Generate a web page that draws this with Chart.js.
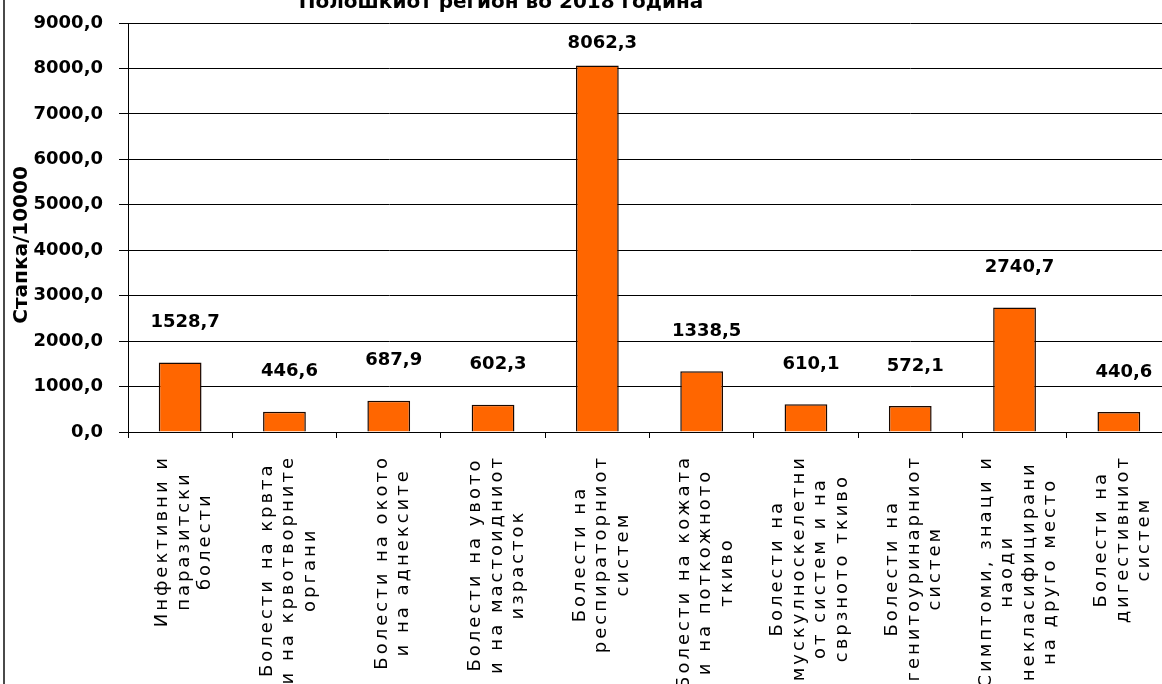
<!DOCTYPE html>
<html><head><meta charset="utf-8">
<script src="https://cdn.jsdelivr.net/npm/chart.js@4/dist/chart.umd.min.js"></script>
<style>
html,body{margin:0;padding:0;background:#fff;overflow:hidden;}
#wrap{position:relative;width:1162px;height:684px;overflow:hidden;background:#fff;}
#box{position:absolute;left:-170px;top:-30px;width:1342px;height:742px;}
#frame{position:absolute;left:3px;top:0;width:0;height:684px;border-left:2px solid #4a4a4a;}
</style></head><body>
<div id="wrap"><div id="box"><canvas id="c" width="1342" height="742"></canvas></div><div id="frame"></div></div>
<script>
const titleText = 'Полошкиот регион во 2018 година';
const yAxisTitle = 'Стапка/10000';
const categories = [
  ['Инфективни и', 'паразитски', 'болести'],
  ['Болести на крвта', 'и на крвотворните', 'органи'],
  ['Болести на окото', 'и на аднексите'],
  ['Болести на увото', 'и на мастоидниот', 'израсток'],
  ['Болести на', 'респираторниот', 'систем'],
  ['Болести на кожата', 'и на поткожното', 'ткиво'],
  ['Болести на', 'мускулноскелетни', 'от систем и на', 'сврзното ткиво'],
  ['Болести на', 'генитоуринарниот', 'систем'],
  ['Симптоми, знаци и', 'наоди', 'некласифицирани', 'на друго место'],
  ['Болести на', 'дигестивниот', 'систем']
];
const rates = [1528.7, 446.6, 687.9, 602.3, 8062.3, 1338.5, 610.1, 572.1, 2740.7, 440.6];
const yMin = 0, yMax = 9000, yStep = 1000;

const fmt = v => v.toFixed(1).replace('.', ',');

const catLabelPlugin = {
  id: 'catLabels',
  afterDraw(chart) {
    const xs = chart.scales.x, ctx = chart.ctx;
    ctx.save();
    ctx.font = '18px "DejaVu Sans"';
    ctx.letterSpacing = '3px';
    ctx.fillStyle = '#000';
    ctx.textAlign = 'center';
    ctx.textBaseline = 'middle';
    const lineH = 21.5;
    categories.forEach((lines, i) => {
      const cx = xs.getPixelForTick(i) + 4;
      const maxW = Math.max(...lines.map(l => ctx.measureText(l).width));
      const cy = xs.top + 23 + maxW / 2;
      ctx.save();
      ctx.translate(cx, cy);
      ctx.rotate(-Math.PI / 2);
      const n = lines.length;
      lines.forEach((l, j) => ctx.fillText(l, 0, (j - (n - 1) / 2) * lineH));
      ctx.restore();
    });
    ctx.restore();
  }
};

const valueLabelPlugin = {
  id: 'valueLabels',
  afterDatasetsDraw(chart) {
    const ctx = chart.ctx, meta = chart.getDatasetMeta(0);
    ctx.save();
    ctx.font = 'bold 18px "DejaVu Sans"';
    ctx.fillStyle = '#000';
    ctx.textAlign = 'center';
    ctx.textBaseline = 'middle';
    meta.data.forEach((bar, i) => {
      const y = Math.max(bar.y - 40, chart.chartArea.top + 20);
      ctx.fillText(fmt(rates[i]), bar.x + 5, y);
    });
    ctx.restore();
  }
};

new Chart(document.getElementById('c'), {
  type: 'bar',
  data: {
    labels: categories,
    datasets: [{
      data: rates,
      backgroundColor: '#FF6600',
      borderColor: '#1a0800',
      borderWidth: 1.5,
      barPercentage: 0.41,
      categoryPercentage: 1.0
    }]
  },
  options: {
    responsive: false,
    animation: false,
    layout: { padding: { left: 1, right: 1, top: 0, bottom: 0 } },
    plugins: {
      legend: { display: false },
      tooltip: { enabled: false },
      title: {
        display: true,
        text: titleText,
        color: '#000',
        font: { family: 'DejaVu Sans', size: 20, weight: 'bold' },
        padding: { top: 21, bottom: 8 }
      }
    },
    scales: {
      x: {
        grid: { display: true, drawOnChartArea: false, drawTicks: true, tickLength: 6, color: '#000', offset: true },
        border: { color: '#000', width: 1 },
        ticks: { color: 'transparent', maxRotation: 90, minRotation: 90, autoSkip: false, font: { family: 'DejaVu Sans', size: 2 } },
        afterFit(scale) { scale.height = 280; scale.paddingLeft = 0; scale.paddingRight = 0; }
      },
      y: {
        min: yMin, max: yMax,
        grid: { color: '#000', lineWidth: 1, drawTicks: true, tickLength: 9 },
        border: { color: '#000', width: 1 },
        ticks: {
          stepSize: yStep,
          padding: 16,
          color: '#000',
          font: { family: 'DejaVu Sans', size: 18, weight: 'bold' },
          callback: v => fmt(v)
        },
        title: {
          display: true,
          text: yAxisTitle + '     ',
          color: '#000',
          font: { family: 'DejaVu Sans', size: 20, weight: 'bold' },
          padding: { top: 179, bottom: 0 }
        },
        afterFit(scale) { scale.width = 297; }
      }
    }
  },
  plugins: [catLabelPlugin, valueLabelPlugin]
});
</script>
</body></html>
